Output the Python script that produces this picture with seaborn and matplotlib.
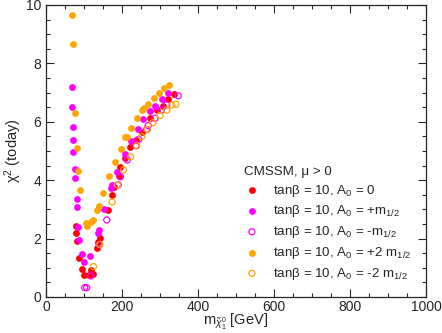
import numpy as np
import pandas as pd
import matplotlib
matplotlib.use("Agg")
import matplotlib.pyplot as plt
import seaborn as sns
from matplotlib.ticker import MultipleLocator

# ---- data ----
a0_zero_x = [78, 79, 82, 87, 95, 101, 114, 118, 123, 135, 138, 142, 163, 173, 179, 192, 195, 209, 221, 236, 252, 274, 291, 307, 320, 336]
a0_zero_y = [2.44, 2.18, 1.93, 1.32, 0.96, 0.75, 0.75, 0.92, 0.80, 1.67, 1.90, 2.02, 2.97, 3.49, 3.78, 4.15, 4.46, 4.77, 5.15, 5.38, 5.64, 6.12, 6.40, 6.54, 6.78, 6.95]

a0_plus_x = [69, 68, 72, 71, 72, 75, 75, 81, 81, 84, 88, 96, 101, 116, 137, 139, 153, 171, 173, 188, 208, 223, 241, 256, 274, 287, 304, 320]
a0_plus_y = [7.18, 6.52, 5.83, 5.37, 4.97, 4.38, 4.09, 3.34, 3.09, 2.40, 1.95, 1.47, 1.21, 1.40, 2.18, 2.30, 3.01, 3.72, 3.85, 4.29, 4.90, 5.35, 5.74, 6.10, 6.37, 6.54, 6.77, 7.00]

a0_minus_x = [102, 107, 118, 140, 160, 190, 196, 214, 237, 244, 265, 269, 287, 304, 318, 348]
a0_minus_y = [0.32, 0.32, 0.72, 1.80, 2.64, 3.84, 4.12, 4.69, 5.18, 5.40, 5.74, 5.87, 6.12, 6.40, 6.58, 6.89]

a0_plus2_x = [69, 72, 76, 81, 85, 89, 104, 108, 118, 123, 134, 139, 151, 167, 182, 197, 207, 213, 224, 240, 253, 258, 269, 284, 297, 311, 324]
a0_plus2_y = [9.66, 8.65, 6.29, 5.10, 4.32, 3.65, 2.53, 2.44, 2.58, 2.64, 2.98, 3.12, 3.57, 4.14, 4.61, 5.07, 5.49, 5.49, 5.78, 6.12, 6.40, 6.46, 6.60, 6.80, 6.97, 7.16, 7.27]

a0_minus2_x = [125, 142, 174, 188, 204, 223, 239, 252, 267, 281, 300, 318, 331, 342]
a0_minus2_y = [1.04, 1.80, 3.25, 3.84, 4.35, 4.80, 5.18, 5.49, 5.74, 5.97, 6.21, 6.40, 6.57, 6.60]

labels = [
    "tanβ = 10, A$_0$ = 0",
    "tanβ = 10, A$_0$ = +m$_{1/2}$",
    "tanβ = 10, A$_0$ = -m$_{1/2}$",
    "tanβ = 10, A$_0$ = +2 m$_{1/2}$",
    "tanβ = 10, A$_0$ = -2 m$_{1/2}$",
]
legend_title = "CMSSM, μ > 0"
x_ticks = [0, 200, 400, 600, 800, 1000]
y_ticks = [0, 2, 4, 6, 8, 10]

series = [
    (a0_zero_x, a0_zero_y, "#ff0000", True),
    (a0_plus_x, a0_plus_y, "#ff00ff", True),
    (a0_minus_x, a0_minus_y, "#ff00ff", False),
    (a0_plus2_x, a0_plus2_y, "#ffa500", True),
    (a0_minus2_x, a0_minus2_y, "#ffa500", False),
]

sns.set_style("ticks")
plt.rcParams["font.family"] = ["Liberation Sans", "DejaVu Sans"]
plt.rcParams["mathtext.fontset"] = "custom"
plt.rcParams["mathtext.rm"] = "Liberation Sans"
plt.rcParams["mathtext.it"] = "Liberation Sans:italic"
plt.rcParams["mathtext.bf"] = "Liberation Sans:bold"

fig = plt.figure(figsize=(4.42, 3.33), dpi=100)
ax = fig.add_axes([46 / 442, 1 - 297 / 333, 380 / 442, 292 / 333])

for (xs, ys, c, filled), lab in zip(series, labels):
    df = pd.DataFrame({"x": xs, "y": ys})
    if filled:
        sns.scatterplot(data=df, x="x", y="y", ax=ax, color=c, marker="o",
                        s=24, linewidth=0, label=lab, zorder=3)
    else:
        sns.scatterplot(data=df, x="x", y="y", ax=ax, marker="o", s=19,
                        facecolor="none", edgecolor=c, linewidth=0.9,
                        label=lab, zorder=3)

ax.set_xlim(0, 1000)
ax.set_ylim(0, 10)
ax.set_xticks(x_ticks)
ax.set_yticks(y_ticks)
ax.xaxis.set_minor_locator(MultipleLocator(50))
ax.yaxis.set_minor_locator(MultipleLocator(0.5))
ax.tick_params(which="both", direction="in", top=True, right=True, labelsize=10)
ax.tick_params(axis="x", which="both", pad=2)
ax.tick_params(axis="y", which="both", pad=3.5)
ax.tick_params(which="major", length=6, width=0.8)
ax.tick_params(which="minor", length=3, width=0.8)
for sp in ax.spines.values():
    sp.set_linewidth(0.9)

ax.set_xlabel(r"m$_{\tilde{\chi}^0_1}$ [GeV]", fontsize=10.5, labelpad=-1.5)
ax.set_ylabel(r"χ$^2$ (today)", fontsize=10.5, labelpad=1)

leg = ax.legend(title=legend_title, loc="lower right", bbox_to_anchor=(0.985, 0.02),
                frameon=False, fontsize=9.6, title_fontsize=9.6,
                alignment="left", handletextpad=0.95, labelspacing=0.36,
                borderaxespad=0.3, handlelength=1.2, markerscale=1.0)

fig.savefig("out.png", dpi=100)
